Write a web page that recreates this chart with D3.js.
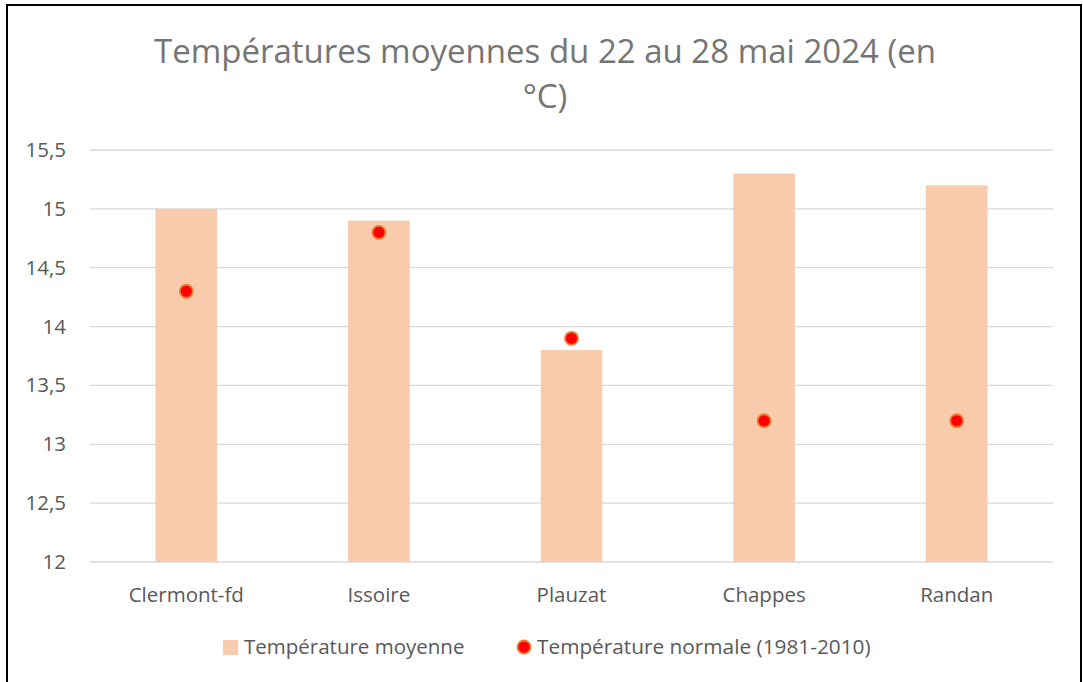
<!DOCTYPE html>
<html>
<head>
<meta charset="utf-8">
<script src="https://cdn.jsdelivr.net/npm/d3@7"></script>
<style>
  body { margin: 0; background: #fff; }
  text { font-family: "Open Sans", "Noto Sans", sans-serif; }
</style>
</head>
<body>
<div id="chart"></div>
<script>
// data
const categories = ["Clermont-fd", "Issoire", "Plauzat", "Chappes", "Randan"];
const moyenne = [15.0, 14.9, 13.8, 15.3, 15.2];
const normale = [14.3, 14.8, 13.9, 13.2, 13.2];
const yTicks = [12, 12.5, 13, 13.5, 14, 14.5, 15, 15.5];
const titleLines = ["Températures moyennes du 22 au 28 mai 2024 (en", "°C)"];
const legendLabels = ["Température moyenne", "Température normale (1981-2010)"];

const width = 1083, height = 682;
const margin = { top: 150, right: 30, bottom: 120, left: 90 };

const svg = d3.select("#chart").append("svg")
    .attr("width", width)
    .attr("height", height);

// outer frame
svg.append("rect")
    .attr("x", 7).attr("y", 5)
    .attr("width", 1074).attr("height", 690)
    .attr("fill", "white")
    .attr("stroke", "black")
    .attr("stroke-width", 2);

const x = d3.scaleBand()
    .domain(categories)
    .range([margin.left, 1053])
    .paddingInner(0.68)
    .paddingOuter(0.34);

const y = d3.scaleLinear()
    .domain([12, 15.5])
    .range([562, 150]);

// gridlines
svg.append("g")
    .selectAll("line")
    .data(yTicks)
    .enter().append("line")
    .attr("x1", margin.left)
    .attr("x2", 1053)
    .attr("y1", d => y(d))
    .attr("y2", d => y(d))
    .style("stroke", "#d9d9d9")
    .style("stroke-width", 1.3);

// y axis labels
const yAxis = d3.axisLeft(y)
    .tickValues(yTicks)
    .tickSize(0)
    .tickPadding(24)
    .tickFormat(d => String(d).replace(".", ","));
const yg = svg.append("g")
    .attr("transform", "translate(" + margin.left + ",0)")
    .call(yAxis);
yg.select(".domain").remove();
yg.selectAll("text")
    .style("font-size", "20.5px")
    .style("fill", "#595959");

// bars
svg.append("g")
    .selectAll("rect")
    .data(moyenne)
    .enter().append("rect")
    .attr("x", (d, i) => x(categories[i]))
    .attr("width", x.bandwidth())
    .attr("y", d => y(d))
    .attr("height", d => y(12) - y(d))
    .style("fill", "#f8cbad");

// x axis labels
const xAxis = d3.axisBottom(x).tickSize(0).tickPadding(25);
const xg = svg.append("g")
    .attr("transform", "translate(0,562)")
    .call(xAxis);
xg.select(".domain").remove();
xg.selectAll("text")
    .style("font-size", "20.5px")
    .style("fill", "#595959");

// normal dots
svg.append("g")
    .selectAll("circle")
    .data(normale)
    .enter().append("circle")
    .attr("cx", (d, i) => x(categories[i]) + x.bandwidth() / 2)
    .attr("cy", d => y(d))
    .attr("r", 6.5)
    .style("fill", "#ff0000")
    .style("stroke", "#ed7d31")
    .style("stroke-width", 1.8);

// title
const title = svg.append("text")
    .attr("text-anchor", "middle")
    .style("font-size", "33px")
    .style("fill", "#757575");
title.selectAll("tspan")
    .data(titleLines)
    .enter().append("tspan")
    .attr("x", 545)
    .attr("y", (d, i) => 63 + i * 45)
    .text(d => d);

// legend
const lg = svg.append("g");
lg.append("rect")
    .attr("x", 223).attr("y", 640)
    .attr("width", 15).attr("height", 15)
    .style("fill", "#f8cbad");
lg.append("text")
    .attr("x", 244).attr("y", 654)
    .style("font-size", "20.5px")
    .style("fill", "#595959")
    .text(legendLabels[0]);
lg.append("circle")
    .attr("cx", 524).attr("cy", 647)
    .attr("r", 6.5)
    .style("fill", "#ff0000")
    .style("stroke", "#ed7d31")
    .style("stroke-width", 1.8);
lg.append("text")
    .attr("x", 537).attr("y", 654)
    .style("font-size", "20.8px")
    .style("fill", "#595959")
    .text(legendLabels[1]);
</script>
</body>
</html>
